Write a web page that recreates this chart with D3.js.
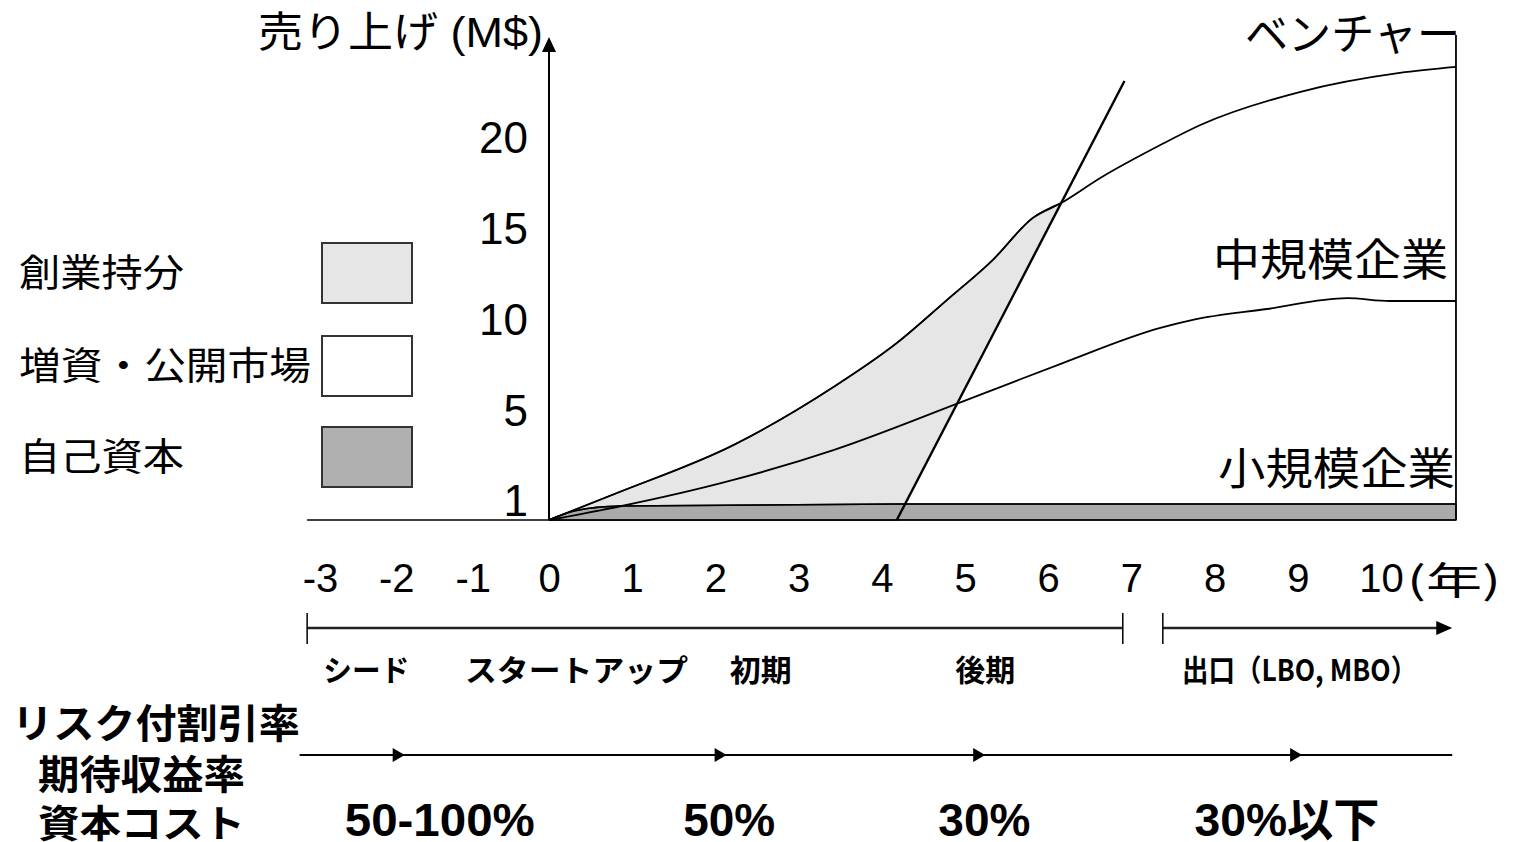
<!DOCTYPE html>
<html>
<head>
<meta charset="utf-8">
<script src="https://cdn.jsdelivr.net/npm/d3@7"></script>
<style>
  body { margin: 0; background: #fff; }
  text { font-family: "Liberation Sans", "Noto Sans CJK JP", sans-serif; fill: #000; }
  .jp { font-family: "Noto Sans CJK JP", sans-serif; }
</style>
</head>
<body>
<div id="chart"></div>
<script>
// data (years, sales in M$)
const xTicks = [-3, -2, -1, 0, 1, 2, 3, 4, 5, 6, 7, 8, 9, 10];
const yTicks = [1, 5, 10, 15, 20];

const ventureYears = [0, 0.815, 2.21, 3.41, 4.17, 4.77, 5.32, 5.80, 6.14, 6.61, 7.33, 7.81, 9.0, 10.2, 10.875];
const ventureSales = [0, 1.31, 3.44, 6.26, 8.68, 11.04, 13.24, 15.55, 16.37, 17.75, 19.56, 20.66, 22.47, 23.52, 23.85];

const midYears = [0, 0.815, 2.21, 3.41, 4.91, 5.41, 6.16, 7.33, 7.72, 8.61, 9.57, 10.08, 10.875];
const midSales = [0, 0.65, 1.89, 3.22, 5.38, 6.26, 7.58, 9.51, 9.95, 10.55, 11.15, 10.99, 10.99];

const smallYears = [0, 0.3, 0.85, 4.2, 10.875];
const smallSales = [0, 0.45, 0.7, 0.8, 0.8];

// exit line of the founders' share
const exitYears = [4.17, 6.9];
const exitSales = [0, 23.08];

const legendLabels = ["創業持分", "増資・公開市場", "自己資本"];
const legendFills = ["#e6e6e6", "#ffffff", "#b0b0b0"];

const seriesNames = ["ベンチャー", "中規模企業", "小規模企業"];

const phaseLabels = ["シード", "スタートアップ", "初期", "後期", "出口（LBO, MBO）"];
const phaseYears = [-2.19, 0.33, 2.54, 5.23, 9.0];
const phaseSpans = [[-2.9, 6.88], [7.36, 10.83]];

const rateTitles = ["リスク付割引率", "期待収益率", "資本コスト"];
const rateLabels = ["50-100%", "50%", "30%", "30%以下"];
const rateYears = [-1.31, 2.16, 5.22, 8.85];
const rateArrowYears = [-1.73, 2.13, 5.23, 9.03];
const rateSpan = [-2.99, 10.83];

const W = 1513, H = 842;
const svg = d3.select("#chart").append("svg")
  .attr("width", W).attr("height", H);

const x = d3.scaleLinear().domain([0, 10]).range([549, 1383]);
// the year labels left of 0 are drawn closer together in the picture
const xLabel = d3.scaleLinear().domain([-3, 0, 10]).range([320, 549, 1381]);
// the picture's sales axis is not evenly spaced at the bottom
const y = d3.scaleLinear().domain([0, 1, 5, 20]).range([520, 500, 410, 137]);

const zip = (a, b) => a.map((d, i) => [d, b[i]]);
const venture = zip(ventureYears, ventureSales);
const mid = zip(midYears, midSales);
const small = zip(smallYears, smallSales);
const exit = zip(exitYears, exitSales);
const xEnd = ventureYears[ventureYears.length - 1];

// helper for text squeezed to the width seen in the picture
function label(txt, x0, w, yc, size, weight, cls) {
  const t = svg.append("text")
    .attr("x", x0).attr("y", yc)
    .attr("dominant-baseline", "central")
    .style("font-size", size + "px")
    .style("font-weight", weight || 400)
    .text(txt);
  if (cls) t.attr("class", cls);
  if (w) t.attr("textLength", w).attr("lengthAdjust", "spacingAndGlyphs");
  return t;
}

// clip: everything left of the exit line
svg.append("clipPath").attr("id", "leftOfExit")
  .append("path")
  .attr("d", d3.line()([[x(-1), y(0) + 2], [x(exitYears[0]), y(0) + 2],
                        [x(exitYears[1]), y(exitSales[1])], [x(-1), y(exitSales[1])]]));

// founders' share area (light grey)
svg.append("path")
  .datum(venture.filter(d => d[0] <= 6.2))
  .attr("clip-path", "url(#leftOfExit)")
  .attr("fill", legendFills[0])
  .attr("stroke", "#222")
  .attr("stroke-width", 1.5)
  .attr("d", d3.area().curve(d3.curveMonotoneX)
    .x(d => x(d[0])).y0(y(0)).y1(d => y(d[1])));

// own capital band (dark grey)
svg.append("path")
  .datum(small)
  .attr("fill", "#aaaaaa")
  .attr("stroke", "#222")
  .attr("stroke-width", 1.5)
  .attr("d", d3.area().curve(d3.curveMonotoneX)
    .x(d => x(d[0])).y0(y(0)).y1(d => y(d[1])));

// growth curves
const line = d3.line().curve(d3.curveMonotoneX).x(d => x(d[0])).y(d => y(d[1]));
[venture, mid].forEach(s => {
  svg.append("path").datum(s)
    .attr("fill", "none").attr("stroke", "#000").attr("stroke-width", 1.8)
    .attr("d", line);
});
svg.append("path").datum(small)
  .attr("fill", "none").attr("stroke", "#000").attr("stroke-width", 1.5)
  .attr("d", line);

// exit line
svg.append("path").datum(exit)
  .attr("fill", "none").attr("stroke", "#000").attr("stroke-width", 2.4)
  .attr("d", d3.line().x(d => x(d[0])).y(d => y(d[1])));

// baseline and right border
svg.append("line")
  .attr("x1", x(-2.9)).attr("x2", x(xEnd))
  .attr("y1", y(0)).attr("y2", y(0))
  .attr("stroke", "#000").attr("stroke-width", 1.5);
svg.append("line")
  .attr("x1", x(xEnd)).attr("x2", x(xEnd))
  .attr("y1", 35).attr("y2", y(0))
  .attr("stroke", "#000").attr("stroke-width", 1.8);

// y axis with arrow
svg.append("line")
  .attr("x1", x(0)).attr("x2", x(0))
  .attr("y1", y(0)).attr("y2", 48)
  .attr("stroke", "#000").attr("stroke-width", 2);
svg.append("path")
  .attr("d", `M${x(0)},37 L${x(0) - 7},52 L${x(0) + 7},52 Z`)
  .attr("fill", "#000");

const yAxis = svg.append("g")
  .attr("transform", `translate(${x(0)},0)`)
  .call(d3.axisLeft(y).tickValues(yTicks).tickSize(0).tickPadding(21).tickFormat(d3.format("d")));
yAxis.select(".domain").remove();
yAxis.selectAll("text")
  .attr("font-family", null)
  .style("font-size", "44px")
  .attr("dy", "0.35em");

const xAxis = svg.append("g")
  .attr("transform", `translate(0,${y(0)})`)
  .call(d3.axisBottom(xLabel).tickValues(xTicks).tickSize(0).tickFormat(d3.format("d")));
xAxis.select(".domain").remove();
xAxis.selectAll("text")
  .attr("font-family", null)
  .style("font-size", "40px")
  .attr("y", 58).attr("dy", "0.35em")
  .text(d => d < 0 ? "-" + Math.abs(d) : d);
label("(年)", 1407, 94, 577, 38, 400, "jp");

// axis title
label("売り上げ (M$)", 258, 285, 32, 42);

// series names
label(seriesNames[0], 1245, 215, 31, 44, 400, "jp");
label(seriesNames[1], 1213, 235, 257, 44, 400, "jp");
label(seriesNames[2], 1218, 237, 466, 44, 400, "jp");

// legend
const legendY = [271, 364, 455];
const legendW = [165, 292, 165];
legendLabels.forEach((l, i) => {
  label(l, 19, legendW[i], legendY[i] - 2, 38, 400, "jp");
  svg.append("rect")
    .attr("x", 322).attr("y", legendY[i] - 28)
    .attr("width", 90).attr("height", 60)
    .attr("fill", legendFills[i])
    .attr("stroke", "#333").attr("stroke-width", 2);
});

// phase timeline
phaseSpans.forEach((s, i) => {
  svg.append("line")
    .attr("x1", x(s[0])).attr("x2", x(s[1]) - (i === 1 ? 12 : 0))
    .attr("y1", 628).attr("y2", 628)
    .attr("stroke", "#222").attr("stroke-width", 2.5);
  svg.append("line")
    .attr("x1", x(s[0])).attr("x2", x(s[0]))
    .attr("y1", 613).attr("y2", 644)
    .attr("stroke", "#000").attr("stroke-width", 1.5);
  if (i === 0) {
    svg.append("line")
      .attr("x1", x(s[1])).attr("x2", x(s[1]))
      .attr("y1", 613).attr("y2", 644)
      .attr("stroke", "#000").attr("stroke-width", 1.5);
  } else {
    svg.append("path")
      .attr("d", `M${x(s[1])},628 L${x(s[1]) - 16},621 L${x(s[1]) - 16},635 Z`)
      .attr("fill", "#000");
  }
});
const phaseW = [86, 223, 62, 60, 235];
phaseLabels.forEach((l, i) => {
  label(l, x(phaseYears[i]) - phaseW[i] / 2, phaseW[i], 668, 30, 700, "jp");
});

// discount rate row
svg.append("line")
  .attr("x1", x(rateSpan[0])).attr("x2", x(rateSpan[1]))
  .attr("y1", 755).attr("y2", 755)
  .attr("stroke", "#000").attr("stroke-width", 2);
rateArrowYears.forEach(a => {
  svg.append("path")
    .attr("d", `M${x(a)},755 L${x(a) - 12},748 L${x(a) - 12},762 Z`)
    .attr("fill", "#000");
});
label(rateTitles[0], 12, 288, 721, 40, 700, "jp");
label(rateTitles[1], 38, 207, 772, 40, 700, "jp");
label(rateTitles[2], 38, 207, 820, 38, 700, "jp");
const rateW = [190, 92, 92, 185];
rateLabels.forEach((l, i) => {
  label(l, x(rateYears[i]) - rateW[i] / 2, rateW[i], 820, 46, 700);
});
</script>
</body>
</html>
